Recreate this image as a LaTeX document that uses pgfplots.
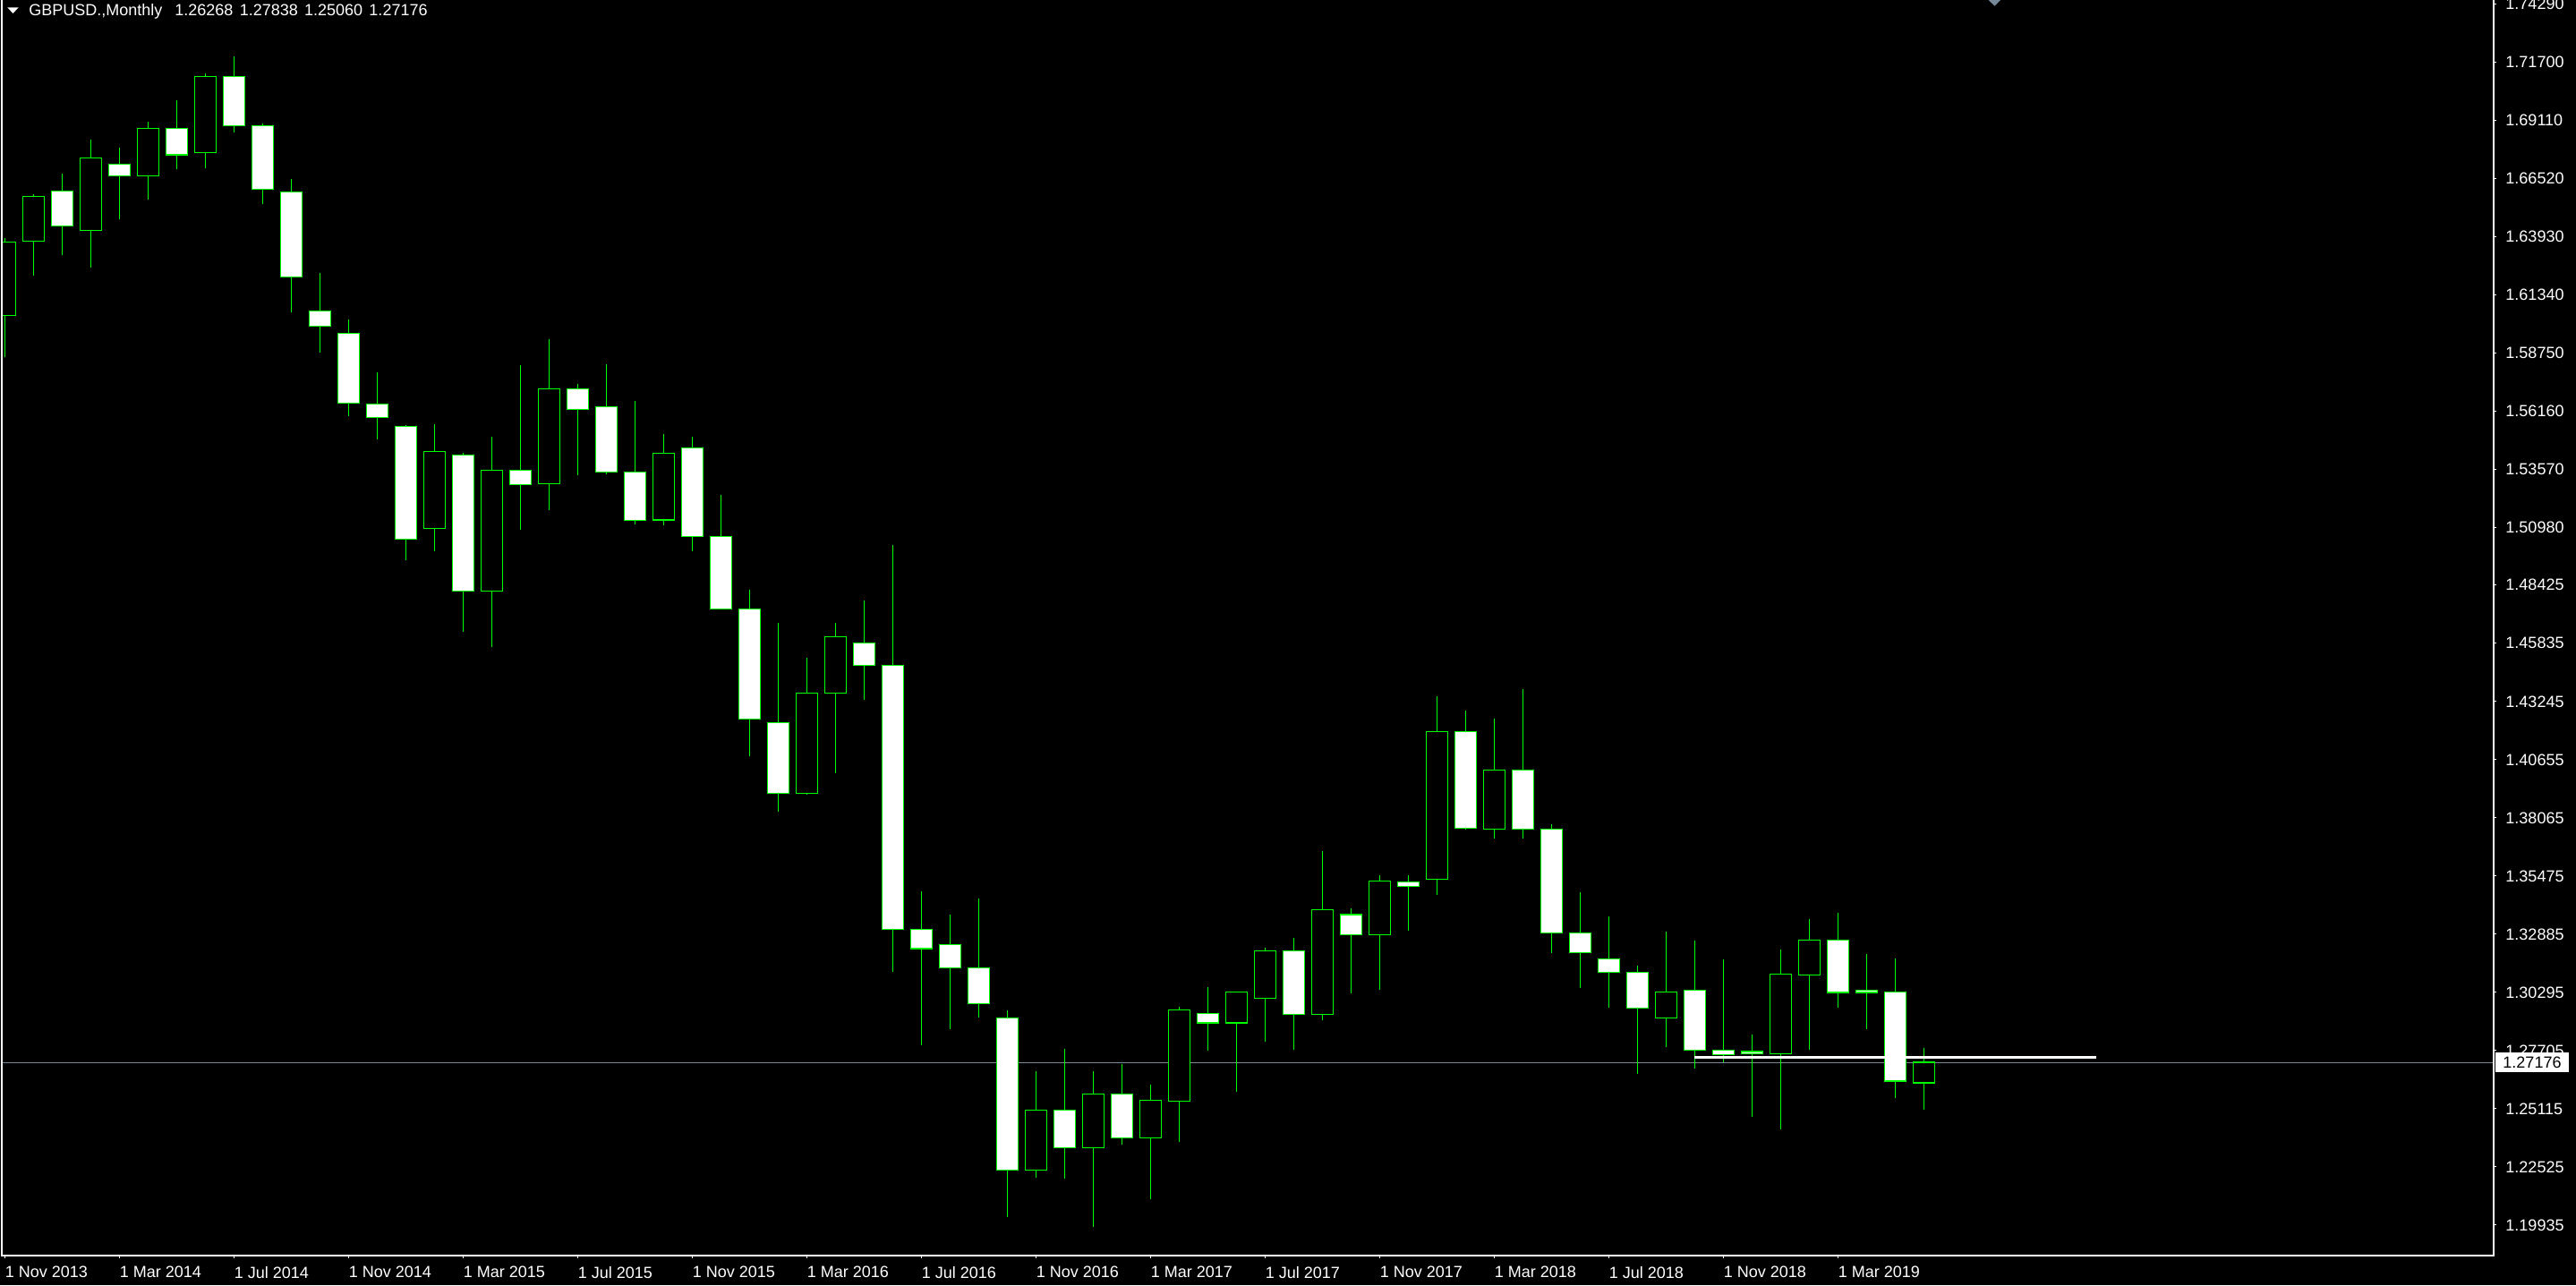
\documentclass[border=0pt]{standalone}
\usepackage{fontspec}
\setmainfont{Liberation Sans}
\usepackage{pgfplots}
\usepackage{pgfplotstable}
\pgfplotsset{compat=1.18}
\definecolor{mtgreen}{RGB}{0,255,0}
\definecolor{mtgray}{RGB}{119,136,153}

% monthly GBPUSD candles, i = months since Nov 2013
\pgfplotstableread{
i O H L C
0 1.6043 1.6386 1.5856 1.6370
1 1.6374 1.6582 1.6221 1.6573
2 1.6596 1.6674 1.6310 1.6441
3 1.6422 1.6825 1.6255 1.6744
4 1.6717 1.6790 1.6470 1.6665
5 1.6665 1.6906 1.6557 1.6875
6 1.6875 1.7002 1.6696 1.6758
7 1.6769 1.7121 1.6699 1.7106
8 1.7106 1.7195 1.6859 1.6888
9 1.6888 1.6897 1.6537 1.6605
10 1.6592 1.6651 1.6055 1.6214
11 1.6062 1.6231 1.5879 1.5995
12 1.5963 1.6025 1.5593 1.5653
13 1.5648 1.5790 1.5490 1.5589
14 1.5548 1.5554 1.4954 1.5047
15 1.5095 1.5559 1.4992 1.5438
16 1.5422 1.5433 1.4636 1.4816
17 1.4816 1.5502 1.4568 1.5355
18 1.5355 1.5822 1.5089 1.5291
19 1.5294 1.5938 1.5175 1.5716
20 1.5716 1.5739 1.5331 1.5625
21 1.5637 1.5826 1.5337 1.5346
22 1.5346 1.5662 1.5111 1.5131
23 1.5132 1.5516 1.5110 1.5430
24 1.5454 1.5503 1.4995 1.5060
25 1.5059 1.5244 1.4737 1.4737
26 1.4737 1.4822 1.4082 1.4246
27 1.4230 1.4675 1.3835 1.3915
28 1.3915 1.4520 1.3908 1.4361
29 1.4361 1.4675 1.4007 1.4612
30 1.4586 1.4774 1.4333 1.4486
31 1.4486 1.5021 1.3120 1.3311
32 1.3311 1.3481 1.2795 1.3224
33 1.3243 1.3375 1.2866 1.3138
34 1.3138 1.3446 1.2916 1.2980
35 1.2916 1.2948 1.2027 1.2238
36 1.2238 1.2679 1.2206 1.2505
37 1.2505 1.2777 1.2201 1.2338
38 1.2338 1.2679 1.1987 1.2578
39 1.2578 1.2709 1.2350 1.2382
40 1.2382 1.2619 1.2110 1.2549
41 1.2546 1.2967 1.2364 1.2951
42 1.2935 1.3053 1.2770 1.2893
43 1.2893 1.3031 1.2587 1.3031
44 1.3003 1.3227 1.2809 1.3215
45 1.3215 1.3270 1.2773 1.2932
46 1.2932 1.3657 1.2907 1.3398
47 1.3375 1.3405 1.3026 1.3286
48 1.3286 1.3551 1.3042 1.3526
49 1.3521 1.3552 1.3302 1.3501
50 1.3533 1.4348 1.3462 1.4191
51 1.4191 1.4284 1.3755 1.3761
52 1.3757 1.4248 1.3713 1.4019
53 1.4018 1.4379 1.3716 1.3757
54 1.3757 1.3778 1.3203 1.3294
55 1.3294 1.3476 1.3049 1.3205
56 1.3179 1.3367 1.2960 1.3118
57 1.3118 1.3148 1.2665 1.2960
58 1.2915 1.3300 1.2787 1.3031
59 1.3040 1.3260 1.2691 1.2773
60 1.2771 1.3177 1.2720 1.2752
61 1.2766 1.2842 1.2474 1.2755
62 1.2755 1.3220 1.2421 1.3111
63 1.3106 1.3356 1.2773 1.3262
64 1.3262 1.3383 1.2963 1.3029
65 1.3040 1.3200 1.2867 1.3029
66 1.3031 1.3180 1.2560 1.2634
67 1.26268 1.27838 1.25060 1.27176
}\ohlc

\begin{document}
\begin{tikzpicture}
\fill[black] (0,0) rectangle (1439pt,718pt);
\useasboundingbox (0,0) rectangle (1439pt,718pt);
\begin{axis}[
  at={(1pt,16.5pt)}, anchor=south west,
  scale only axis, width=1392pt, height=701.5pt,
  xmin=-0.109, xmax=86.89, ymin=1.18576, ymax=1.74473,
  clip mode=individual,
  axis line style={draw=none},
  xtick={0,4,...,64},
  xticklabels={1 Nov 2013,1 Mar 2014,1 Jul 2014,1 Nov 2014,1 Mar 2015,1 Jul 2015,1 Nov 2015,1 Mar 2016,1 Jul 2016,1 Nov 2016,1 Mar 2017,1 Jul 2017,1 Nov 2017,1 Mar 2018,1 Jul 2018,1 Nov 2018,1 Mar 2019},
  ytick={1.19935,1.22525,1.25115,1.27705,1.30295,1.32885,1.35475,1.38065,1.40655,1.43245,1.45835,1.48425,1.50980,1.53570,1.56160,1.58750,1.61340,1.63930,1.66520,1.69110,1.71700,1.74290},
  yticklabels={1.19935,1.22525,1.25115,1.27705,1.30295,1.32885,1.35475,1.38065,1.40655,1.43245,1.45835,1.48425,1.50980,1.53570,1.56160,1.58750,1.61340,1.63930,1.66520,1.69110,1.71700,1.74290},
  xtick pos=left, ytick pos=right, yticklabel pos=right,
  tick align=outside, major tick length=1.5pt,
  tick style={white, line width=0.5pt},
  ticklabel style={font=\fontsize{9}{10}\selectfont, text=white},
  xticklabel style={anchor=north west, inner sep=0pt, yshift=-4.5pt},
  yticklabel style={anchor=west, inner sep=0pt, xshift=5pt},
  extra y ticks={1.27176},
  extra y tick labels={1.27176},
  extra y tick style={major tick length=0pt,
    yticklabel style={fill=white, text=black, inner xsep=4pt, inner ysep=2.35pt, xshift=-4pt}},
]
% bid line behind the candles
\addplot[mtgray, line width=0.5pt] coordinates {(-1,1.27176) (90,1.27176)};

% wicks, low to high
\addplot[draw=none, mark=none, error bars/.cd, y dir=plus, y explicit, error mark=none,
  error bar style={draw=mtgreen, line width=0.6pt}]
  table[x=i, y=L, y error plus expr={\thisrow{H}-\thisrow{L}}] {\ohlc};

% body outline
\addplot[draw=none, mark=none, error bars/.cd, y dir=plus, y explicit, error mark=none,
  error bar style={draw=mtgreen, line width=12.65pt}]
  table[x=i, y expr={min(\thisrow{O},\thisrow{C})-0.00026},
    y error plus expr={abs(\thisrow{C}-\thisrow{O})+0.00052}] {\ohlc};

% body fill: falling months white
\addplot[draw=none, mark=none, error bars/.cd, y dir=plus, y explicit, error mark=none,
  error bar style={draw=white, line width=11.35pt}]
  table[x=i, y expr={min(\thisrow{O},\thisrow{C})+0.00026},
    y error plus expr={(\thisrow{C}<\thisrow{O}) ? max(\thisrow{O}-\thisrow{C}-0.00052,0) : 0}] {\ohlc};

% body fill: rising months black
\addplot[draw=none, mark=none, error bars/.cd, y dir=plus, y explicit, error mark=none,
  error bar style={draw=black, line width=11.35pt}]
  table[x=i, y expr={min(\thisrow{O},\thisrow{C})+0.00026},
    y error plus expr={(\thisrow{C}>\thisrow{O}) ? max(\thisrow{C}-\thisrow{O}-0.00052,0) : 0}] {\ohlc};

% horizontal line object
\addplot[white, line width=1.35pt] coordinates {(58.98,1.27393) (73.0,1.27393)};

\draw[white, line width=0.6pt] (rel axis cs:0,1) -- (rel axis cs:0,0)
  -- (rel axis cs:1,0) -- (rel axis cs:1,1);
\end{axis}

\fill[white] (4.15pt,713.85pt) -- (10.35pt,713.85pt) -- (7.25pt,710.5pt) -- cycle;
\node[anchor=base west, inner sep=0pt, text=white, font=\fontsize{9}{10}\selectfont]
  at (16pt,709.15pt) {GBPUSD.,Monthly\hspace{7pt}1.26268\hspace{3.65pt}1.27838\hspace{3.65pt}1.25060\hspace{3.65pt}1.27176};
\fill[mtgray] (1110.8pt,718pt) -- (1117.5pt,718pt) -- (1114.2pt,714.7pt) -- cycle;
\end{tikzpicture}
\end{document}
